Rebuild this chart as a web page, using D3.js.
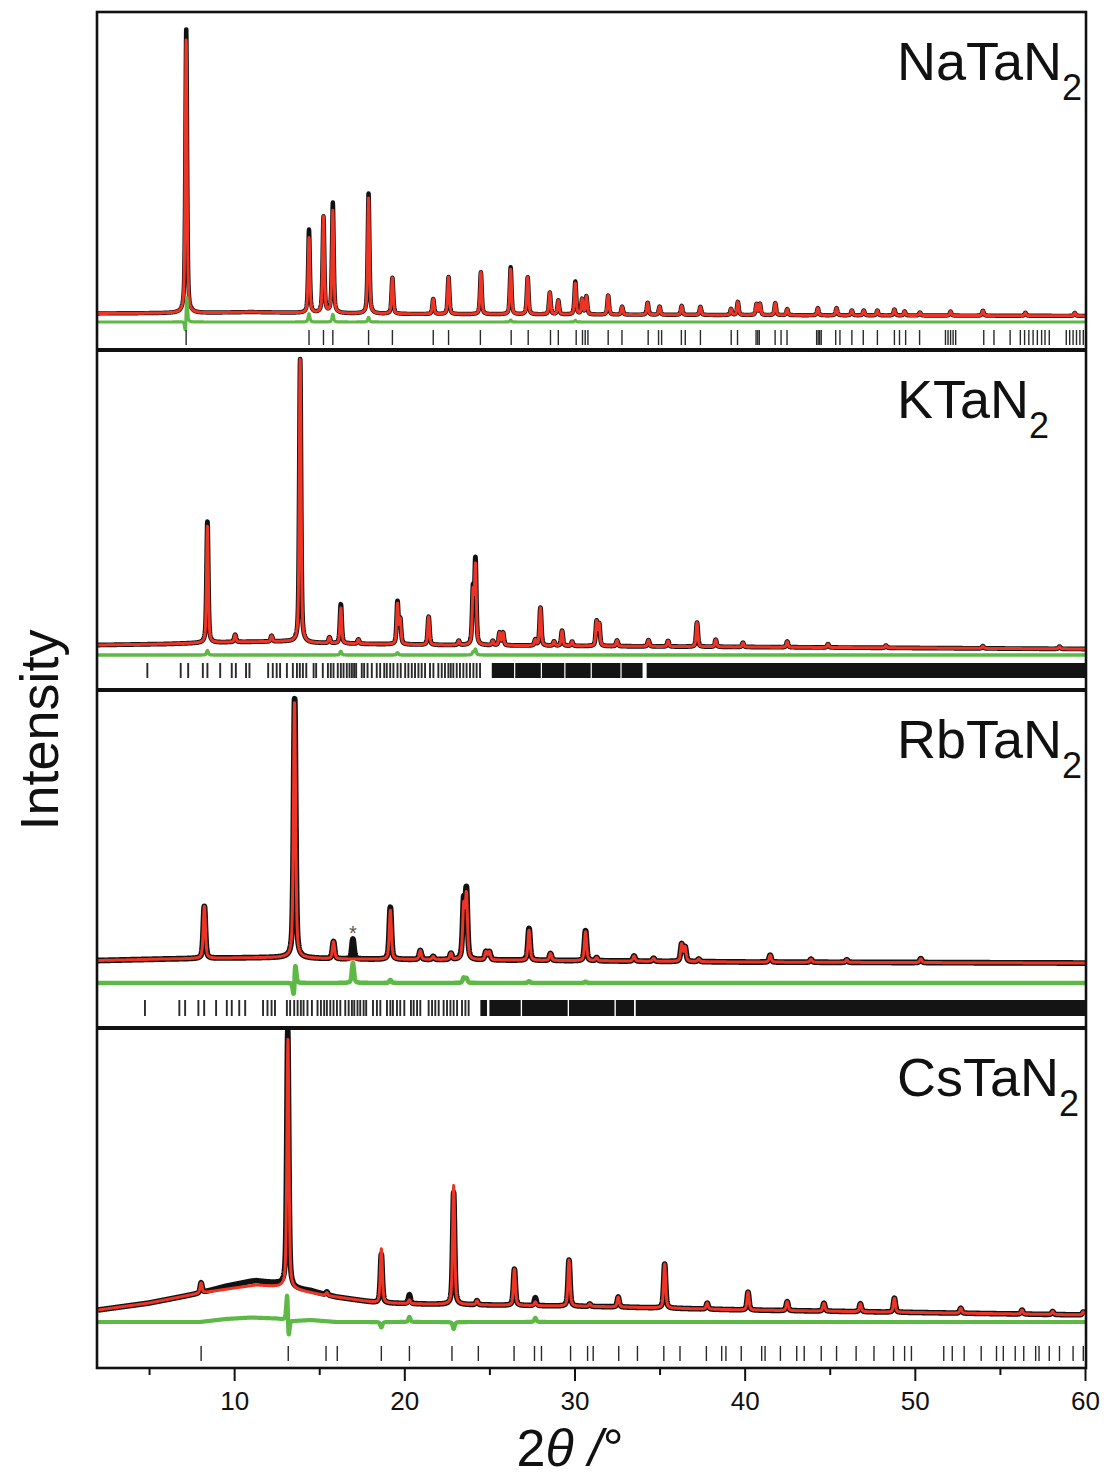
<!DOCTYPE html>
<html>
<head>
<meta charset="utf-8">
<script src="https://cdn.jsdelivr.net/npm/d3@7"></script>
<style>
  body { margin: 0; background: #fff; }
  text { font-family: "Liberation Sans", Arial, sans-serif; fill: #111; }
</style>
</head>
<body>
<svg id="chart" width="1107" height="1479"></svg>
<script>
// ---- data ----
// peaks: [2theta, calculated intensity, observed intensity (if different), observed shift]
// intensities are relative (strongest calculated reflection of each phase = 100)
const naPeaks = [
  [7.18, 100, 104.5, 0.005], [14.4, 27.5, 30.5], [15.25, 35.2], [15.8, 37.5, 40.3], [17.9, 42.3, 44],
  [19.3, 13.2], [21.7, 5.5], [22.6, 13.6], [24.5, 15.4], [26.25, 16.5, 17.2], [27.25, 13.6],
  [28.55, 8], [29.05, 5.1], [30.05, 11.4, 12], [30.45, 5.5], [30.7, 6.6], [31.98, 7], [32.8, 2.9],
  [34.3, 4.4], [35.0, 3], [36.3, 3.3], [37.4, 3], [39.2, 2.2], [39.6, 4.8], [40.7, 4], [40.9, 4],
  [41.8, 4.4], [42.5, 2.2], [44.3, 2.6], [45.4, 2.6], [46.3, 1.8], [47.0, 1.8], [47.8, 1.8],
  [48.8, 2.2], [49.4, 1.5], [50.3, 1.1], [52.1, 1.5], [54.0, 1.8], [56.5, 1.1], [59.4, 1.1]
];
const naBackground = [[2, 0.2], [8, 0.4], [11, 0.7], [14, 0.4], [20, 0], [40, -0.4], [60, -0.7]];
const naReflections = [
  7.18, 14.4, 15.25, 15.8, 17.9, 19.3, 21.7, 22.6, 24.47, 26.28, 27.28, 28.59, 29.05, 30.1, 30.47,
  30.63, 30.79, 31.98, 32.79, 34.33, 34.94, 35.12, 36.28, 36.51, 37.4, 39.21, 39.58, 40.67, 40.77,
  40.86, 41.79, 42.14, 42.49, 44.23, 44.32, 44.41, 44.5, 45.35, 45.6, 46.3, 46.97, 47.8, 48.8, 49.1,
  49.46, 50.28, 51.8, 51.95, 52.1, 52.25, 52.4, 54.05, 54.65, 55.6, 56.2, 56.45, 56.7, 56.95, 57.2,
  57.45, 57.65, 57.9, 58.9, 59.1, 59.3, 59.5, 59.7, 59.9
];

const kPeaks = [
  [8.43, 41.2, 42.8], [10.06, 2.5], [12.2, 2], [13.88, 100], [15.6, 2], [16.27, 12.5, 13.8],
  [17.3, 1.5], [19.6, 14, 14.8], [19.76, 8.5], [21.43, 9.9], [23.2, 1.5], [24.04, 18, 19],
  [24.18, 27.5, 29.5], [25.2, 1.5], [25.6, 4.4], [25.8, 4.4], [27.7, 2], [28.0, 13.4], [28.8, 1.5],
  [29.27, 5.3], [29.86, 1.5], [31.3, 8.5], [31.45, 7.5], [32.5, 2], [34.35, 2.2], [35.5, 2],
  [37.2, 8.5], [38.3, 2.5], [39.9, 1.5], [42.5, 2], [44.9, 1.2], [48.3, 0.8], [54.0, 0.8], [58.5, 0.8]
];
const kBackground = [[2, 0.35], [6, 0.7], [10, 1.4], [13, 1.6], [14.5, 1.1], [18, 0.7], [22, 0.35], [30, 0], [40, -0.35], [60, -1.06]];
const kReflections = [
  4.9, 6.86, 7.3, 8.16, 8.43, 9.18, 9.86, 10.1, 10.7, 10.9, 12.0, 12.27, 12.5, 12.7, 13.1, 13.45,
  13.69, 13.86, 14.04, 14.24, 14.67, 14.82, 15.21, 15.51, 15.68, 15.84, 16.09, 16.27, 16.43, 16.62,
  16.78, 16.92, 17.05, 17.17, 17.5, 17.64, 17.84, 18.09, 18.38, 18.58, 18.82, 18.97, 19.17, 19.36,
  19.6, 19.79, 20.05, 20.24, 20.44, 20.63, 20.83, 21.02, 21.22, 21.51, 21.71, 22.0, 22.2, 22.39,
  22.59, 22.73, 22.88, 23.08, 23.27, 23.47, 23.66, 23.86, 24.06, 24.25, 24.45
];
// ranges where the reflection marks merge into a solid band
const kReflectionBands = [[25.14, 26.45], [26.52, 28.02], [28.09, 29.4], [29.47, 30.95], [31.02, 32.7], [32.77, 34.0], [34.24, 60]];

const rbPeaks = [
  [8.25, 20.4], [13.55, 100, 101.8, 0.006], [15.84, 6.7], [16.98, 0, 7.8], [19.18, 19.2, 20.4],
  [20.94, 3.5], [21.7, 1.2], [22.74, 2.4], [23.49, 20, 22], [23.65, 24.5, 26.3], [24.8, 3.1],
  [25.0, 3.1], [27.33, 11.8, 12.5], [28.59, 2.7], [30.65, 11.3, 11.8], [31.3, 1.2], [33.5, 2],
  [34.65, 1.2], [36.3, 6.7], [36.5, 5.5], [37.3, 1], [41.5, 2.7], [43.9, 1.2], [46.0, 1], [50.35, 1.5]
];
const rbBackground = [[2, -0.2], [6, 0.4], [10, 0.8], [13, 1.0], [16, 0.4], [25, 0], [40, -0.8], [60, -1.2]];
const rbReflections = [
  4.76, 6.78, 7.12, 7.9, 8.24, 8.94, 9.57, 9.86, 10.3, 10.65, 11.7, 11.96, 12.2, 12.4, 13.1, 13.29,
  13.53, 13.73, 13.92, 14.08, 14.31, 14.57, 14.9, 15.1, 15.29, 15.45, 15.65, 15.84, 16.04, 16.24,
  16.53, 16.73, 16.92, 17.06, 17.25, 17.41, 17.61, 17.76, 18.16, 18.39, 18.59, 18.98, 19.18, 19.33,
  19.57, 19.76, 20.0, 20.39, 20.55, 20.75, 20.94, 21.43, 21.63, 21.82, 22.02, 22.31, 22.51, 22.71,
  22.9, 23.1, 23.39, 23.59, 23.78
];
const rbReflectionBands = [[24.47, 24.86], [25.0, 26.84], [26.92, 29.6], [29.68, 32.35], [32.43, 33.5], [33.6, 60]];
const rbImpurity = [16.98];

const csPeaks = [
  [8.06, 4], [13.16, 100, 103, -0.008], [15.45, 1.2], [18.65, 21.7, 19.5], [20.3, 1.5, 3.6],
  [22.9, 47.8, 45], [24.27, 1.6], [26.47, 14.5], [27.7, 1.5, 3.2], [29.68, 18.5], [30.9, 1],
  [32.57, 4], [35.3, 17.7], [37.8, 2.4], [40.2, 7.2], [42.5, 3.6], [44.66, 3.2], [46.8, 3.2],
  [48.8, 5.6], [52.7, 2], [56.3, 1.6], [58.1, 1.2], [59.9, 1.2]
];
const csBackground = [
  [2, 0], [5, 2.8], [8, 6.8], [10, 8.8], [11.3, 10], [12.7, 9.2], [13.7, 8], [15.2, 6], [18.4, 2.9],
  [21.1, 2.4], [25, 2], [32, 1.3], [40, 0], [50, -1], [60, -2]
];
// observed amorphous hump sits a little above the fitted background
const csObsExcess = [[2, 0], [8, 0], [9.5, 1.2], [11, 1.8], [12.5, 1.4], [13.5, 0.4], [14.5, 0.8], [16, 0], [60, 0]];
const csReflections = [
  8.06, 13.18, 15.4, 16.06, 18.65, 20.3, 22.8, 24.35, 26.45, 27.65, 28.06, 29.77, 30.77, 31.1, 32.6,
  33.7, 35.25, 36.2, 37.75, 38.65, 38.9, 39.8, 41.0, 41.2, 42.1, 43.06, 43.5, 44.5, 45.4, 46.55,
  47.6, 48.75, 49.4, 49.8, 51.7, 52.2, 52.9, 53.9, 54.8, 55.2, 55.9, 56.4, 57.1, 57.3, 57.9, 58.5,
  59.3, 59.9
];

const xMajorTicks = [10, 20, 30, 40, 50, 60];
const xMinorTicks = [5, 15, 25, 35, 45, 55];

// ---- layout ----
const left = 97, right = 1086, frameTop = 12, frameBottom = 1368;
const RED = '#ee3424', GREEN = '#5db845', BLACK = '#111';

const panels = [
  { label: 'NaTaN', peaks: naPeaks, bg: naBackground, excess: null, refl: naReflections, bands: [],
    top: 12, bottom: 350, base: 314, ppu: 2.73, diffY: 322, tick: [330, 345], fwhm: 0.12, obsW: 4.4, diffW: 3.2, reflW: 1.4 },
  { label: 'KTaN', peaks: kPeaks, bg: kBackground, excess: null, refl: kReflections, bands: kReflectionBands,
    top: 350, bottom: 690, base: 646, ppu: 2.83, diffY: 655, tick: [663, 678], fwhm: 0.12, obsW: 4.8, diffW: 3.4, reflW: 1.9 },
  { label: 'RbTaN', peaks: rbPeaks, bg: rbBackground, excess: null, refl: rbReflections, bands: rbReflectionBands,
    top: 690, bottom: 1028, base: 960, ppu: 2.55, diffY: 983, tick: [1000, 1016], fwhm: 0.15, obsW: 5.8, diffW: 4.6, reflW: 1.9, star: rbImpurity },
  { label: 'CsTaN', peaks: csPeaks, bg: csBackground, excess: csObsExcess, refl: csReflections, bands: [],
    top: 1028, bottom: 1368, base: 1310, ppu: 2.49, diffY: 1322, tick: [1346, 1361], fwhm: 0.14, obsW: 5.6, diffW: 4.2, reflW: 1.4 }
];

const svg = d3.select('#chart');
const x = d3.scaleLinear().domain([2, 60]).range([98, 1085]);

// pseudo-Voigt peak shape
function pv(t2, x0, w) {
  const u = (t2 - x0) / w;
  const q = 4 * u * u;
  return 0.5 / (1 + q) + 0.5 * Math.exp(-Math.LN2 * q);
}

const grid = d3.range(2, 60.0001, 0.01);

panels.forEach((p, i) => {
  const y = d3.scaleLinear().domain([0, 100]).range([p.base, p.base - 100 * p.ppu]);
  const yDiff = d3.scaleLinear().domain([0, 100]).range([p.diffY, p.diffY - 100 * p.ppu]);
  const bgScale = d3.scaleLinear().domain(p.bg.map(d => d[0])).range(p.bg.map(d => d[1])).clamp(true);
  const exScale = p.excess
    ? d3.scaleLinear().domain(p.excess.map(d => d[0])).range(p.excess.map(d => d[1])).clamp(true)
    : () => 0;

  const rows = grid.map(t => {
    let calc = bgScale(t), obs = bgScale(t) + exScale(t);
    p.peaks.forEach(pk => {
      const [pos, ic, io, sh] = pk;
      if (Math.abs(t - pos) > 6) return;
      calc += ic * pv(t, pos, p.fwhm);
      obs += (io === undefined ? ic : io) * pv(t, pos + (sh || 0), p.fwhm);
    });
    return { t, calc, obs, diff: obs - calc };
  });

  const g = svg.append('g');
  const clipId = 'clip' + i;
  svg.append('clipPath').attr('id', clipId)
    .append('rect').attr('x', left + 1).attr('y', p.top + 2).attr('width', right - left - 2).attr('height', p.bottom - p.top - 4);
  const inner = g.append('g').attr('clip-path', `url(#${clipId})`);

  inner.append('path').datum(rows)
    .attr('fill', 'none').attr('stroke', BLACK).attr('stroke-width', p.obsW).attr('stroke-linejoin', 'round')
    .attr('d', d3.line().x(d => x(d.t)).y(d => y(d.obs)));
  inner.append('path').datum(rows)
    .attr('fill', 'none').attr('stroke', RED).attr('stroke-width', 3).attr('stroke-linejoin', 'round')
    .attr('d', d3.line().x(d => x(d.t)).y(d => y(d.calc)));
  inner.append('path').datum(rows)
    .attr('fill', 'none').attr('stroke', GREEN).attr('stroke-width', p.diffW).attr('stroke-linejoin', 'round')
    .attr('d', d3.line().x(d => x(d.t)).y(d => yDiff(d.diff)));

  // reflection marks
  inner.selectAll('line.refl').data(p.refl).enter().append('line')
    .attr('class', 'refl')
    .attr('x1', d => x(d)).attr('x2', d => x(d))
    .attr('y1', p.tick[0]).attr('y2', p.tick[1])
    .attr('stroke', '#2a2a2a').attr('stroke-width', p.reflW);
  inner.selectAll('rect.band').data(p.bands).enter().append('rect')
    .attr('class', 'band')
    .attr('x', d => x(d[0])).attr('width', d => x(d[1]) - x(d[0]))
    .attr('y', p.tick[0]).attr('height', p.tick[1] - p.tick[0])
    .attr('fill', '#141414');

  if (p.star) {
    g.selectAll('text.star').data(p.star).enter().append('text')
      .attr('class', 'star')
      .attr('x', d => x(d)).attr('y', 940)
      .attr('text-anchor', 'middle').attr('font-size', 20).style('fill', '#555')
      .text('*');
  }

  // phase label
  const lab = g.append('text').attr('x', 897).attr('y', p.top + 68).attr('font-size', 54);
  lab.append('tspan').text(p.label);
  lab.append('tspan').attr('font-size', 36).attr('dy', 20).text('2');
});

// frame and panel dividers
svg.append('rect').attr('x', left).attr('y', frameTop).attr('width', right - left).attr('height', frameBottom - frameTop)
  .attr('fill', 'none').attr('stroke', BLACK).attr('stroke-width', 2.6);
svg.selectAll('line.div').data(panels.slice(1)).enter().append('line')
  .attr('class', 'div')
  .attr('x1', left).attr('x2', right).attr('y1', d => d.top).attr('y2', d => d.top)
  .attr('stroke', BLACK).attr('stroke-width', 4);

// x axis
const axMajor = svg.append('g').attr('transform', `translate(0,${frameBottom})`)
  .call(d3.axisBottom(x).tickValues(xMajorTicks).tickSize(13).tickPadding(11).tickFormat(d3.format('d')));
const axMinor = svg.append('g').attr('transform', `translate(0,${frameBottom})`)
  .call(d3.axisBottom(x).tickValues(xMinorTicks).tickSize(7).tickFormat(''));
[axMajor, axMinor].forEach(a => {
  a.select('.domain').remove();
  a.selectAll('.tick line').attr('stroke', BLACK).attr('stroke-width', 2);
});
axMajor.selectAll('.tick text').attr('font-size', 26).attr('font-family', '"Liberation Sans", Arial, sans-serif').style('fill', BLACK);

// axis titles
const xt = svg.append('text').attr('x', 570).attr('y', 1466).attr('text-anchor', 'middle').attr('font-size', 52);
xt.append('tspan').text('2');
xt.append('tspan').attr('font-style', 'italic').text('θ');
xt.append('tspan').attr('font-style', 'italic').text(' /');
xt.append('tspan').text('°');

svg.append('text').attr('transform', 'translate(58,730) rotate(-90)')
  .attr('text-anchor', 'middle').attr('font-size', 54).text('Intensity');
</script>
</body>
</html>
